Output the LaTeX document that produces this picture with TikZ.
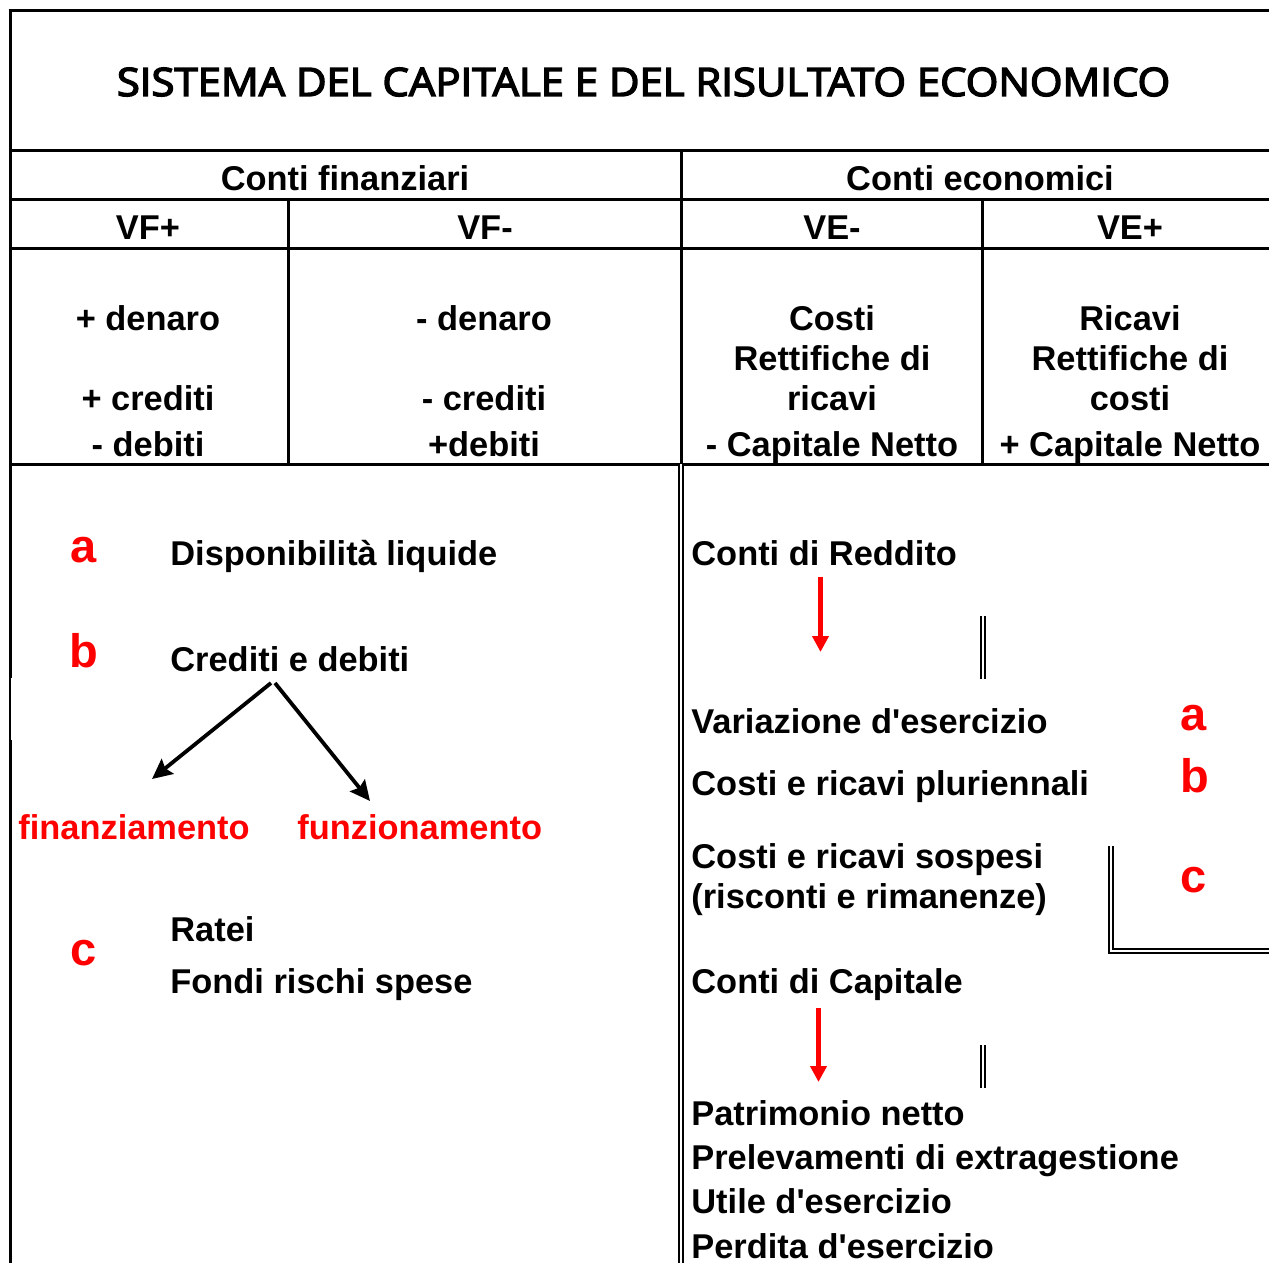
\documentclass[tikz,border=0pt]{standalone}
\usepackage{fontspec}
\newfontfamily\arial{Liberation Sans}
\newfontfamily\titlefont{Open Sans}[FakeBold=3.5]
\usetikzlibrary{arrows.meta}
\begin{document}
\begin{tikzpicture}[x=0.5pt,y=-0.5pt,
  txt/.style={inner sep=0pt, font=\arial\fontsize{17.2}{20}\selectfont\bfseries},
  ctxt/.style={txt, anchor=base},
  ltxt/.style={txt, anchor=base west},
  redtxt/.style={ltxt, text=red},
  letter/.style={inner sep=0pt, anchor=base, text=red, font=\arial\fontsize{23.5}{26}\selectfont\bfseries},
  rule/.style={line width=1.5pt},
  dbl/.style={line width=1pt, double distance=1pt, double=white},
  blkarrow/.style={line width=1.9pt, -{Stealth[length=10pt,width=9.5pt,inset=1.5pt]}},
  redarrow/.style={red, line width=2.4pt, -{Triangle[length=8pt,width=8pt]}}
]
\fill[white] (0,0) rectangle (1269,1263);
\useasboundingbox (0,0) rectangle (1269,1263);

% frame and table rules
\draw[rule] (8.5,10.5) -- (1269,10.5);
\draw[rule] (10,10.5) -- (10,678);
\draw[line width=0.6pt] (10,678) -- (10,740);
\draw[rule] (10,740) -- (10,1263);
\draw[rule] (10,150.5) -- (1269,150.5);
\draw[rule] (10,199) -- (1269,199);
\draw[rule] (10,248) -- (1269,248);
\draw[rule] (10,464) -- (1269,464);
\draw[rule] (681.5,150.5) -- (681.5,464);
\draw[rule] (288,199) -- (288,464);
\draw[rule] (982,199) -- (982,464);
\draw[dbl] (681,464) -- (681,1263);

% title
\node[inner sep=0pt, anchor=base] (title) at (643.5,96)
  {\resizebox{526.5pt}{14.2pt}{\titlefont SISTEMA DEL CAPITALE E DEL RISULTATO ECONOMICO}};

% headers
\node[ctxt] (cf) at (345,191) {Conti finanziari};
\node[ctxt] (ce) at (980,191) {Conti economici};
\node[ctxt] (vfp) at (148,239) {VF+};
\node[ctxt] (vfm) at (485,239) {VF-};
\node[ctxt] (vem) at (832,239) {VE-};
\node[ctxt] (vep) at (1130,239) {VE+};

% table body
\node[ctxt] (l1) at (148,330) {+ denaro};
\node[ctxt] (l2) at (148,410) {+ crediti};
\node[ctxt] (l3) at (148,456) {- debiti};
\node[ctxt] (m1) at (484,330) {- denaro};
\node[ctxt] (m2) at (484,410) {- crediti};
\node[ctxt] (m3) at (484,456) {+debiti};
\node[ctxt] (r1) at (832,330) {Costi};
\node[ctxt] (r2) at (832,370) {Rettifiche di};
\node[ctxt] (r3) at (832,410) {ricavi};
\node[ctxt] (r4) at (832,456) {- Capitale Netto};
\node[ctxt] (s1) at (1130,330) {Ricavi};
\node[ctxt] (s2) at (1130,370) {Rettifiche di};
\node[ctxt] (s3) at (1130,410) {costi};
\node[ctxt] (s4) at (1130,456) {+ Capitale Netto};

% left lower part
\node[letter] (la) at (84,562) {a};
\node[ltxt] (disp) at (170,565) {Disponibilità liquide};
\node[letter] (lb) at (84,667) {b};
\node[ltxt] (cred) at (170,671) {Crediti e debiti};
\coordinate (cs1) at (271,683);
\coordinate (cs2) at (275,683);
\coordinate (fe1) at (152,779);
\coordinate (fe2) at (370,801);
\draw[blkarrow] (cs1) -- (fe1);
\draw[blkarrow] (cs2) -- (fe2);
\node[redtxt] (fin) at (18,839) {finanziamento};
\node[redtxt] (fun) at (297,839) {funzionamento};
\node[ltxt] (ratei) at (170,941) {Ratei};
\node[letter] (lc) at (84,965) {c};
\node[ltxt] (fondi) at (170,993) {Fondi rischi spese};

% right lower part
\node[ltxt] (cdr) at (691,565) {Conti di Reddito};
\coordinate (ra1) at (820.5,577);
\coordinate (ra1e) at (820.5,652);
\draw[redarrow] (ra1) -- (ra1e);
\draw[dbl] (983,616) -- (983,679);
\node[ltxt] (var) at (691,733) {Variazione d'esercizio};
\node[letter] (ra) at (1194,730) {a};
\node[ltxt] (plu) at (691,795) {Costi e ricavi pluriennali};
\node[letter] (rb) at (1195,792) {b};
\node[ltxt] (sos1) at (691,868) {Costi e ricavi sospesi};
\node[ltxt] (sos2) at (691,908) {(risconti e rimanenze)};
\node[letter] (rc) at (1194,892) {c};
\draw[dbl] (1111,846) -- (1111,951) -- (1269,951);
\node[ltxt] (cdc) at (691,993) {Conti di Capitale};
\coordinate (ra2) at (818.5,1008);
\coordinate (ra2e) at (818.5,1082);
\draw[redarrow] (ra2) -- (ra2e);
\draw[dbl] (983,1045) -- (983,1088);
\node[ltxt] (pn) at (691,1125) {Patrimonio netto};
\node[ltxt] (pe) at (691,1169) {Prelevamenti di extragestione};
\node[ltxt] (ue) at (691,1213) {Utile d'esercizio};
\node[ltxt] (pd) at (691,1258) {Perdita d'esercizio};
\end{tikzpicture}
\end{document}
